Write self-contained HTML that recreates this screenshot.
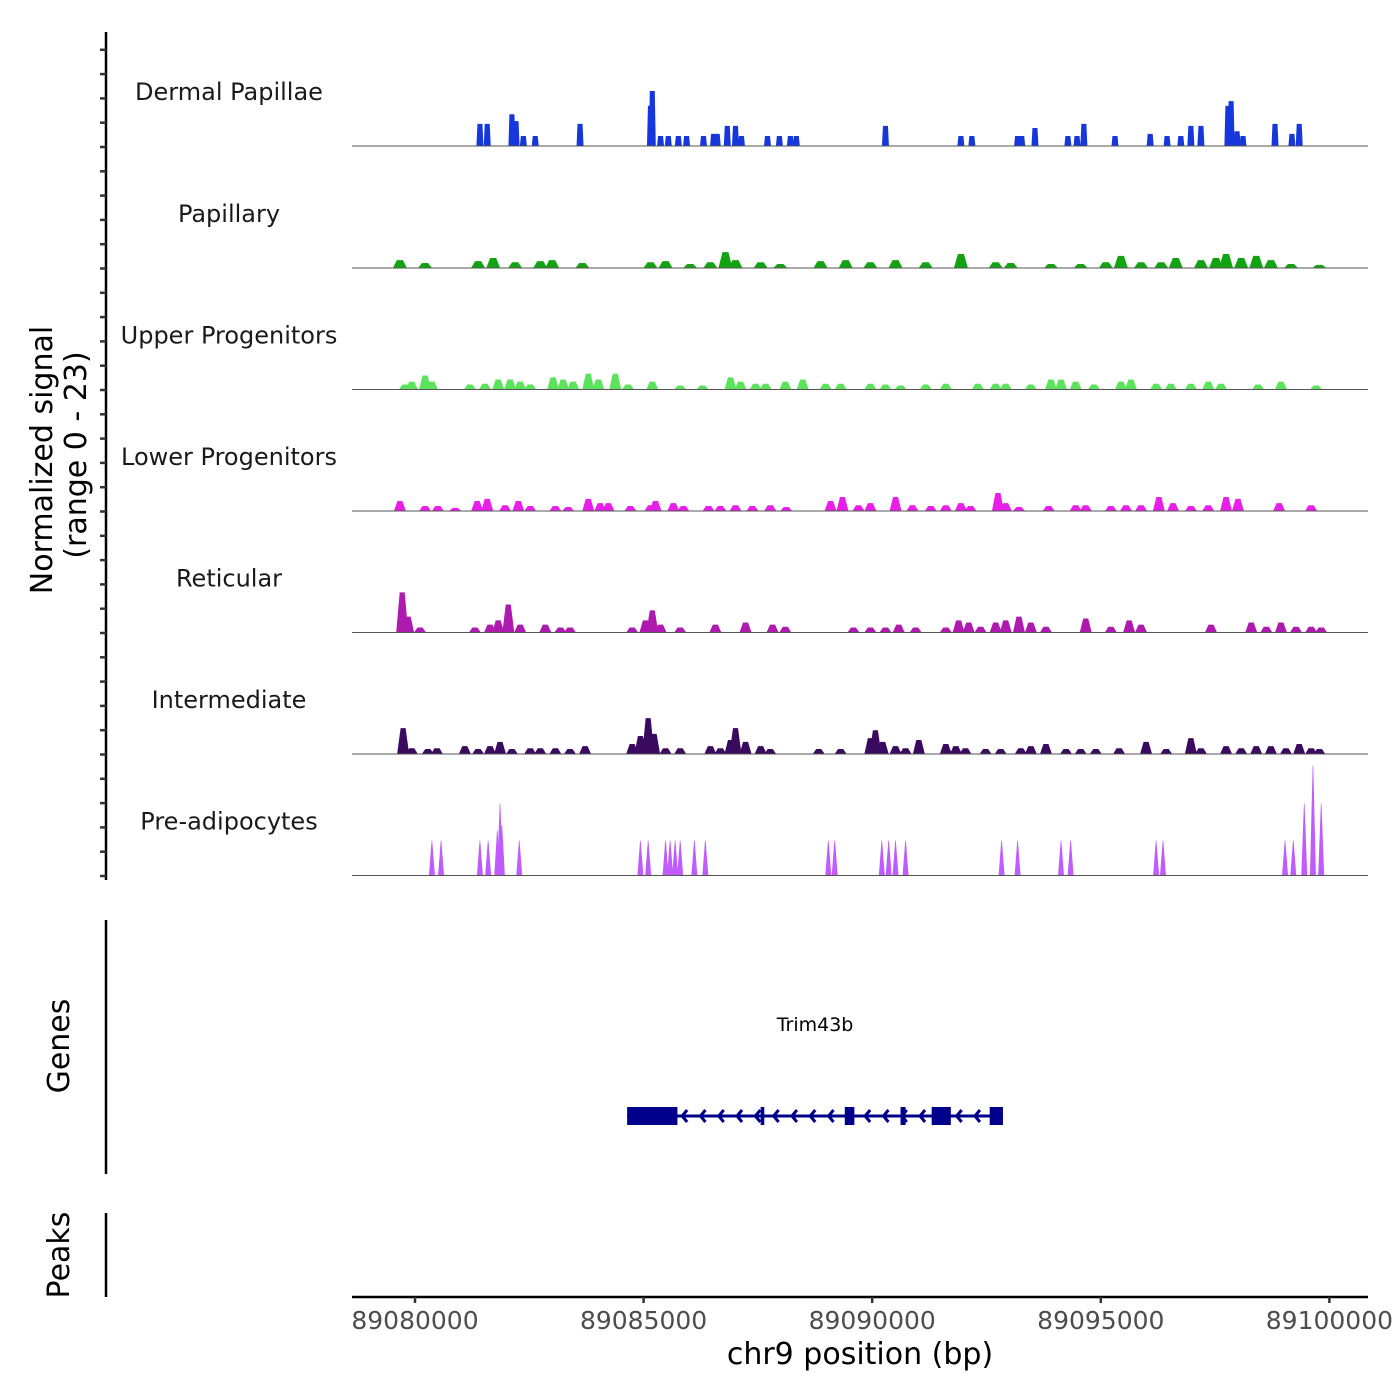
<!DOCTYPE html>
<html><head><meta charset="utf-8"><style>
html,body{margin:0;padding:0;background:#fff}
svg{display:block;font-family:"DejaVu Sans","Liberation Sans",sans-serif}
</style></head><body>
<svg id="chart" width="1400" height="1400" viewBox="0 0 1400 1400" xmlns="http://www.w3.org/2000/svg">
<g id="tracks"></g>
<g id="yaxis"></g>
<text transform="translate(52,460) rotate(-90)" text-anchor="middle" font-size="30" fill="#000">Normalized signal</text>
<text transform="translate(86,455) rotate(-90)" text-anchor="middle" font-size="30" fill="#000">(range 0 - 23)</text>
<g id="genes"></g>
<line x1="106" y1="920" x2="106" y2="1174" stroke="#000" stroke-width="2.5"/>
<text transform="translate(69,1046) rotate(-90)" text-anchor="middle" font-size="30" fill="#000">Genes</text>
<line x1="106" y1="1213" x2="106" y2="1297" stroke="#000" stroke-width="2.5"/>
<text transform="translate(69,1255) rotate(-90)" text-anchor="middle" font-size="30" fill="#000">Peaks</text>
<g id="xaxis"></g>
<text x="860" y="1364" text-anchor="middle" font-size="30" fill="#000">chr9 position (bp)</text>
</svg>
<script>
const regionStart = 89080000;
const yMax = 23;
const trackNames = ["Dermal Papillae","Papillary","Upper Progenitors","Lower Progenitors","Reticular","Intermediate","Pre-adipocytes"];
const trackColors = ["#1637DB","#12A312","#5BE35B","#E81FE8","#AD1AAD","#3A0A5E","#C05BFF"];
// peak positions (kb offset from 89,080,000) and heights (signal units)
const dpPos = [1.42,1.58,2.12,2.21,2.37,2.63,3.61,5.15,5.19,5.37,5.54,5.76,5.94,6.31,6.53,6.61,6.83,7.01,7.14,7.71,7.97,8.21,8.34,10.29,11.94,12.18,13.18,13.27,13.56,14.28,14.48,14.63,15.31,16.08,16.45,16.75,16.97,17.19,17.78,17.85,17.98,18.11,18.81,19.18,19.34];
const dpVal = [4.2,4.2,6,4.7,1.9,1.9,4.2,7.6,10.4,1.9,1.9,1.9,1.9,1.9,2.3,2.3,3.8,3.8,1.9,1.9,1.9,1.9,1.9,3.8,1.9,1.9,1.9,1.9,3.4,1.9,1.9,4.2,1.9,2.3,1.9,1.9,3.8,3.8,7.6,8.5,2.8,1.9,4.2,2.3,4.2];
const papPos = [-0.33,0.22,1.38,1.71,2.19,2.74,3.0,3.66,5.15,5.48,6.02,6.46,6.79,7.01,7.56,7.99,8.87,9.42,9.96,10.51,11.17,11.94,12.7,13.03,13.91,14.56,15.11,15.44,15.88,16.32,16.64,17.19,17.52,17.74,18.07,18.4,18.72,19.16,19.78];
const papVal = [1.5,0.95,1.3,1.9,1.1,1.3,1.5,0.95,1.1,1.3,0.75,1.1,3,1.5,1.1,0.75,1.3,1.5,1.1,1.5,1.1,2.65,1.1,0.95,0.75,0.75,1.1,2.3,1.1,1.1,1.9,1.5,1.9,2.65,1.9,2.3,1.5,0.75,0.6];
const upPos = [-0.22,-0.07,0.22,0.37,1.2,1.53,1.82,2.08,2.3,2.52,3.02,3.24,3.46,3.79,4.01,4.38,4.66,5.19,5.8,6.29,6.9,7.12,7.45,7.67,8.1,8.48,8.98,9.31,9.96,10.29,10.62,11.17,11.61,12.31,12.7,12.92,13.47,13.91,14.13,14.45,14.85,15.44,15.66,16.21,16.53,16.97,17.35,17.63,18.44,18.94,19.71];
const upVal = [0.95,1.5,2.65,1.5,0.95,1.1,1.9,1.9,1.5,0.95,2.3,1.9,1.5,3,1.9,3,0.95,1.5,0.75,0.75,2.3,1.5,1.1,1.1,1.5,1.9,1.1,1.1,1.1,0.95,0.75,0.95,1.1,1.1,1.1,1.1,0.95,1.9,1.9,1.5,0.95,1.5,1.9,1.1,1.1,1.1,1.5,1.1,0.95,1.5,0.75];
const lowPos = [-0.33,0.22,0.5,0.88,1.36,1.58,1.97,2.26,2.52,3.07,3.35,3.79,4.05,4.23,4.71,5.15,5.26,5.65,5.87,6.42,6.68,7.01,7.38,7.77,8.12,9.09,9.35,9.7,9.96,10.51,10.88,11.28,11.61,11.94,12.15,12.75,12.92,13.21,13.86,14.45,14.67,15.22,15.55,15.88,16.27,16.58,16.97,17.35,17.74,18.0,18.9,19.6];
const lowVal = [1.9,0.95,0.95,0.6,1.9,2.3,1.1,1.9,0.95,0.95,0.75,2.3,1.5,1.5,0.95,1.1,1.9,1.5,0.95,0.95,0.95,1.1,0.95,1.1,0.75,1.9,2.65,1.1,1.5,2.65,1.1,0.95,1.1,1.5,0.95,3.4,1.5,0.75,0.95,1.1,1.1,0.95,1.1,1.1,2.65,1.5,0.95,1.1,2.65,2.3,1.5,1.1];
const retPos = [-0.28,-0.15,0.11,1.31,1.64,1.82,2.04,2.3,2.85,3.18,3.39,4.75,5.04,5.19,5.37,5.8,6.57,7.23,7.82,8.1,9.59,9.96,10.29,10.58,10.95,11.61,11.89,12.11,12.37,12.7,12.92,13.21,13.47,13.8,14.67,15.22,15.62,15.88,17.41,18.29,18.62,18.94,19.27,19.6,19.82];
const retVal = [7.6,3,0.95,0.95,1.5,2.3,5.3,1.5,1.5,0.95,0.95,0.95,2.3,4.2,1.5,0.95,1.5,1.9,1.5,1.1,0.95,0.95,0.95,1.5,0.95,0.95,2.3,1.9,1.1,1.9,2.3,3,1.9,1.1,2.65,1.1,2.3,1.5,1.5,1.9,1.1,1.9,1.1,1.1,0.95];
const intPos = [-0.26,-0.07,0.28,0.48,1.09,1.38,1.64,1.86,2.12,2.52,2.74,3.07,3.39,3.72,4.75,4.93,5.1,5.23,5.48,5.8,6.46,6.68,6.9,7.01,7.23,7.56,7.77,8.83,9.31,9.96,10.07,10.23,10.51,10.73,11.02,11.61,11.83,12.04,12.48,12.81,13.25,13.47,13.8,14.24,14.56,14.89,15.4,15.99,16.43,16.97,17.19,17.74,18.07,18.4,18.72,19.05,19.34,19.6,19.78];
const intVal = [4.9,1.1,0.95,1.1,1.5,0.95,1.5,2.3,0.95,1.1,1.1,1.1,0.95,1.5,1.9,3.4,6.8,3.8,1.1,1.1,1.5,1.1,2.65,4.9,2.3,1.5,0.95,0.95,0.95,3,4.5,2.3,1.5,1.1,2.65,1.9,1.5,1.1,0.95,0.95,1.1,1.5,1.9,0.95,0.95,0.95,1.1,2.3,0.95,3,1.1,1.5,1.1,1.5,1.5,1.1,1.9,1.1,0.95];
const prePos = [0.37,0.57,1.42,1.6,1.8,1.86,1.9,2.28,4.93,5.1,5.48,5.58,5.69,5.8,6.11,6.35,9.04,9.18,10.21,10.36,10.51,10.73,12.83,13.18,14.13,14.34,16.21,16.36,19.03,19.21,19.45,19.64,19.82];
const preVal = [6.6,6.6,6.6,6.6,8.5,13.6,9.5,6.6,6.6,6.6,6.6,6.6,6.6,6.6,6.6,6.6,6.6,6.6,6.6,6.6,6.6,6.6,6.6,6.6,6.6,6.6,6.6,6.6,6.6,6.6,13.6,20.8,13.6];
const trackPos = [dpPos,papPos,upPos,lowPos,retPos,intPos,prePos];
const trackVal = [dpVal,papVal,upVal,lowVal,retVal,intVal,preVal];
const xTicks = [89080000,89085000,89090000,89095000,89100000];
const geneName = "Trim43b";
const geneStart = 4.64, geneEnd = 12.86;
const exonStart = [4.64,7.56,9.4,10.62,11.3,12.57];
const exonEnd = [5.74,7.64,9.61,10.73,11.72,12.86];

const NS = "http://www.w3.org/2000/svg";
const pxPerBp = 228.6/5000;
const x0 = 415;
function xScale(bp){ return x0 + (bp - regionStart) * pxPerBp; }
function xKb(kb){ return xScale(regionStart + kb*1000); }
const baselines = [146,268,389.5,511,632.5,754,875.5];
const trackH = 121.5;
function yScale(v, t){ return baselines[t] - v/yMax*trackH; }
function mk(tag, attrs, parent){ const e=document.createElementNS(NS,tag); for(const k in attrs) e.setAttribute(k,attrs[k]); parent.appendChild(e); return e; }

const tracks = document.getElementById('tracks');
const halfW = [3.5,7,6,6,6,6,3];
const topW = [2.5,3,2.5,2.5,2.5,2.5,0.3];
for(let t=0;t<7;t++){
  const g = mk('g',{},tracks);
  
  
  const label = mk('text',{x:229,y:baselines[t]-46,'text-anchor':'middle','font-size':24,fill:'#1a1a1a'},g);
  label.textContent = trackNames[t];
  
  
  const pos = trackPos[t], val = trackVal[t];
  for(let i=0;i<pos.length;i++){
    const cx = xKb(pos[i]), b = baselines[t], y = yScale(val[i], t);
    const p = mk('polygon',{points:`${cx-halfW[t]},${b} ${cx-topW[t]},${y} ${cx+topW[t]},${y} ${cx+halfW[t]},${b}`,fill:trackColors[t]},g);
    
    
  }
  const bl = mk('line',{x1:352,x2:1368,y1:baselines[t],y2:baselines[t],stroke:'#555','stroke-width':1},g);
  
  
}

const ya = document.getElementById('yaxis');
mk('line',{x1:106,x2:106,y1:32,y2:880,stroke:'#000','stroke-width':2.5},ya);
for(let y=876; y>36; y-=24.3){
  const tk = mk('line',{x1:100,x2:106,y1:y,y2:y,stroke:'#333','stroke-width':2.5},ya);
  
  
}

const gg = document.getElementById('genes');
const gl = mk('text',{x:(xKb(geneStart)+xKb(geneEnd))/2,y:1031,'text-anchor':'middle','font-size':19,fill:'#000'},gg);
gl.textContent = geneName;


const intron = mk('line',{x1:xKb(geneStart),x2:xKb(geneEnd),y1:1116,y2:1116,stroke:'#00008B','stroke-width':3},gg);


for(let x=xKb(geneStart)+55; x<xKb(geneEnd)-5; x+=18.3){
  const a = mk('polyline',{points:`${x+5},${1110} ${x},${1116} ${x+5},${1122}`,fill:'none',stroke:'#00008B','stroke-width':3},gg);
  
  
}
for(let i=0;i<exonStart.length;i++){
  const r = mk('rect',{x:xKb(exonStart[i]),y:1107,width:Math.max(3,xKb(exonEnd[i])-xKb(exonStart[i])),height:18,fill:'#00008B'},gg);
  
  
}

const xa = document.getElementById('xaxis');
mk('line',{x1:352,x2:1368,y1:1297,y2:1297,stroke:'#000','stroke-width':2.5},xa);
xTicks.forEach(v=>{
  const x = xScale(v);
  const tk = mk('line',{x1:x,x2:x,y1:1297,y2:1303,stroke:'#333','stroke-width':2.5},xa);
  
  
  const lb = mk('text',{x:x,y:1329,'text-anchor':'middle','font-size':25,fill:'#4d4d4d'},xa);
  lb.textContent = v;
  
  
});
</script>
</body></html>
